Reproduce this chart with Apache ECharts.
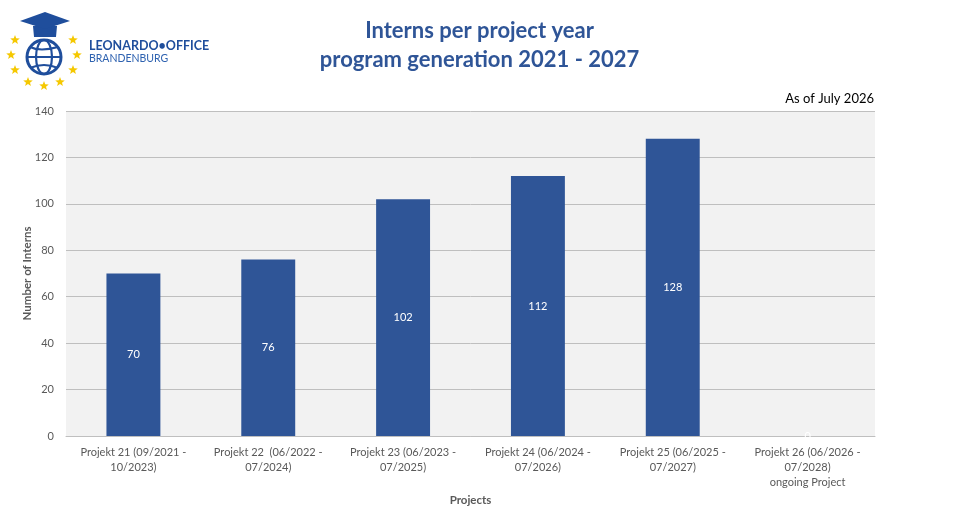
<!DOCTYPE html>
<html><head><meta charset="utf-8">
<script src="https://cdn.jsdelivr.net/npm/echarts@6/dist/echarts.min.js"></script>
<style>html,body{margin:0;padding:0;background:#fff}#c{width:959px;height:513px}</style>
</head><body><div id="c"></div>
<script>
const categories = [
  'Projekt 21 (09/2021 -\n10/2023)',
  'Projekt 22  (06/2022 -\n07/2024)',
  'Projekt 23 (06/2023 -\n07/2025)',
  'Projekt 24 (06/2024 -\n07/2026)',
  'Projekt 25 (06/2025 -\n07/2027)',
  'Projekt 26 (06/2026 -\n07/2028)\nongoing Project'
];
const interns = [70, 76, 102, 112, 128, 0];
const yTicks = {min: 0, max: 140, interval: 20};

const FONT = 'Lato, "Open Sans", sans-serif';
const BLUE = '#2F5597';

function starPoints(cx, cy, R, r) {
  const pts = [];
  for (let i = 0; i < 10; i++) {
    const a = -Math.PI / 2 + i * Math.PI / 5;
    const rad = i % 2 === 0 ? R : r;
    pts.push([cx + rad * Math.cos(a), cy + rad * Math.sin(a)]);
  }
  return pts;
}
const starCenters = [[15,40],[11,55],[15,70],[28,82],[44,86],[60,82],[73,70],[77,55],[73,40]];
const logo = [];
starCenters.forEach(p => logo.push({type:'polygon', shape:{points: starPoints(p[0], p[1], 5, 2.1)}, style:{fill:'#F5C800'}}));
// globe
logo.push({type:'circle', shape:{cx:44, cy:57, r:17}, style:{fill:'none', stroke:'#1F4E9C', lineWidth:3}});
logo.push({type:'ellipse', shape:{cx:44, cy:57, rx:8, ry:17}, style:{fill:'none', stroke:'#1F4E9C', lineWidth:2.2}});
logo.push({type:'line', shape:{x1:27, y1:57, x2:61, y2:57}, style:{stroke:'#1F4E9C', lineWidth:2.2}});
logo.push({type:'bezierCurve', shape:{x1:30, y1:47, x2:58, y2:47, cpx1:40, cpy1:52}, style:{stroke:'#1F4E9C', lineWidth:2, fill:'none'}});
logo.push({type:'bezierCurve', shape:{x1:30, y1:68, x2:58, y2:68, cpx1:44, cpy1:62}, style:{stroke:'#1F4E9C', lineWidth:2, fill:'none'}});
// cap
logo.push({type:'polygon', shape:{points:[[33,26],[57,26],[56,37],[34,37]]}, style:{fill:'#1F4E9C'}});
logo.push({type:'polygon', shape:{points:[[45,12],[70,21],[45,29],[20,21]]}, style:{fill:'#1F4E9C'}});
logo.push({type:'text', left:89, top:39, style:{text:'LEONARDO•OFFICE', font:'bold 12.5px ' + FONT, fill:'#1F4E9C'}});
logo.push({type:'text', left:89, top:53, style:{text:'BRANDENBURG', font:'10.5px ' + FONT, fill:'#2E62B0'}});

const chart = echarts.init(document.getElementById('c'));
chart.setOption({
  animation: false,
  backgroundColor: '#fff',
  title: {
    text: 'Interns per project year\nprogram generation 2021 - 2027',
    left: 'center', top: 11,
    textStyle: {fontFamily: FONT, fontSize: 22, fontWeight: 'bold', color: BLUE, lineHeight: 29}
  },
  graphic: logo.concat([
    {type:'text', right: 85, top: 92, style:{text:'As of July 2026', font:'13px ' + FONT, fill:'#000'}}
  ]),
  grid: {left: 66, right: 84, top: 111, bottom: 77, show: true, backgroundColor: '#F2F2F2', borderWidth: 0},
  xAxis: {
    type: 'category', data: categories,
    name: 'Projects', nameLocation: 'middle', nameGap: 58, nameMoveOverlap: false,
    nameTextStyle: {fontFamily: FONT, fontSize: 11.5, fontWeight: 'bold', color: '#595959'},
    axisLine: {lineStyle: {color: '#BFBFBF'}},
    axisTick: {show: false},
    axisLabel: {fontFamily: FONT, fontSize: 11, color: '#595959', lineHeight: 15, interval: 0, margin: 9}
  },
  yAxis: {
    type: 'value', min: yTicks.min, max: yTicks.max, interval: yTicks.interval,
    name: 'Number of Interns', nameLocation: 'middle', nameGap: 33, nameMoveOverlap: false,
    nameTextStyle: {fontFamily: FONT, fontSize: 11.5, fontWeight: 'bold', color: '#595959'},
    axisLine: {show: false}, axisTick: {show: false},
    axisLabel: {fontFamily: FONT, fontSize: 11, color: '#595959', margin: 12},
    splitLine: {lineStyle: {color: '#BFBFBF'}}
  },
  series: [{
    type: 'bar', data: interns, barWidth: '40%',
    itemStyle: {color: BLUE},
    label: {show: true, position: 'inside', color: '#fff', fontFamily: FONT, fontSize: 11}
  }]
});
</script></body></html>
